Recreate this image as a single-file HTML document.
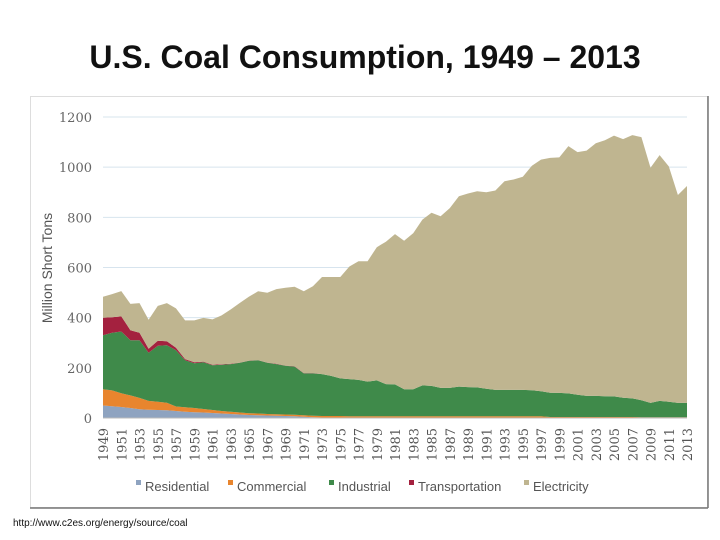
<!DOCTYPE html>
<html><head><meta charset="utf-8"><style>
body{margin:0;width:720px;height:540px;background:#fff;overflow:hidden;position:relative;font-family:"Liberation Sans",sans-serif}
#title{position:absolute;left:0;width:730px;top:39px;text-align:center;font-size:32px;font-weight:bold;color:#111}
#url{position:absolute;left:13px;top:518px;font-size:10px;color:#111}
svg{position:absolute;left:0;top:0}
</style></head><body>
<div id="title">U.S. Coal Consumption, 1949 – 2013</div>
<svg id="chart" width="720" height="540"></svg>
<div id="url">http://www.c2es.org/energy/source/coal</div>
<script>
const startYear = 1949;
const residential = [50,47,44,40,35,33,32,31,28,25,23,22,20,18,16,14,12,11,10,9,8,7,5,3,2,2,2,1,1,1,1,1,1,1,1,1,1,1,1,1,1,1,1,1,1,1,1,1,1,1,1,1,1,1,1,1,1,1,1,0,0,0,0,0,0];
const commercial = [65,63,55,50,45,35,33,30,18,18,17,14,12,10,9,8,7,7,6,6,6,6,6,6,6,6,6,6,6,6,6,6,6,6,6,6,6,6,6,6,6,6,6,6,6,6,6,6,6,3,3,3,3,3,3,3,3,3,3,3,3,3,3,3,3];
const industrial = [215,230,246,220,230,192,223,229,224,187,178,186,178,184,190,198,209,212,204,200,194,192,167,169,167,160,150,148,145,138,143,128,127,108,108,123,121,113,113,118,116,115,110,105,105,105,105,104,100,97,96,94,89,84,84,83,82,77,74,68,57,65,62,57,57];
const transportation = [70,62,60,40,30,16,20,16,10,5,4,3,2,2,1,1,1,1,1,1,1,1,1,1,0,0,0,0,0,0,0,0,0,0,0,0,0,0,0,0,0,0,0,0,0,0,0,0,0,0,0,0,0,0,0,0,0,0,0,0,0,0,0,0,0];
const electricity = [83,92,101,105,118,116,139,152,157,154,167,174,181,195,217,238,255,274,278,298,310,317,326,346,387,394,404,449,473,480,531,568,599,592,622,661,690,684,717,759,772,782,783,795,832,839,850,895,923,936,939,986,967,978,1007,1020,1040,1031,1050,1049,938,980,938,829,865];
const yTicks = [0,200,400,600,800,1000,1200];
const seriesNames = ["Residential","Commercial","Industrial","Transportation","Electricity"];
const seriesColors = ["#8ea3c0","#e8852e","#3f8a4a","#a4213f","#bfb590"];

const svg = document.getElementById('chart');
const NS = 'http://www.w3.org/2000/svg';
const x0 = 103, x1 = 687, yBase = 418, yTop = 117;
const n = residential.length;
const xs = i => x0 + (x1 - x0) * i / (n - 1);
const ys = v => yBase - (yBase - yTop) * v / 1200;
function mk(tag, attrs, parent){const e=document.createElementNS(NS,tag);for(const k in attrs)e.setAttribute(k,attrs[k]);(parent||svg).appendChild(e);return e;}

let f = mk('rect',{x:30.5,y:96.5,width:677,height:411,fill:'none',stroke:'#ddd','stroke-width':1});


mk('line',{x1:30,y1:508,x2:708,y2:508,stroke:'#777','stroke-width':1.5});
mk('line',{x1:708,y1:96,x2:708,y2:508,stroke:'#777','stroke-width':1.5});

yTicks.forEach(t=>{
  const g = mk('line',{x1:x0,x2:x1,y1:ys(t),y2:ys(t),stroke:'#d7e4ee','stroke-width':1});
  
  
  const tx = mk('text',{x:92,y:ys(t)+5,'text-anchor':'end','font-size':13,fill:'#666','font-family':'"DejaVu Serif",serif'});
  tx.textContent = t;
  
  
});
const yt = mk('text',{x:0,y:0,transform:'translate(52,268) rotate(-90)','text-anchor':'middle','font-size':14,fill:'#555'});
yt.textContent='Million Short Tons';



const all = [residential,commercial,industrial,transportation,electricity];
let cum = new Array(n).fill(0);
all.forEach((s,k)=>{
  const lower = cum.slice();
  const upper = cum.map((c,i)=>c+s[i]);
  let d = 'M'+upper.map((v,i)=>xs(i).toFixed(1)+','+ys(v).toFixed(1)).join('L');
  for(let i=n-1;i>=0;i--) d += 'L'+xs(i).toFixed(1)+','+ys(lower[i]).toFixed(1);
  const p = mk('path',{d:d+'Z',fill:seriesColors[k]});
  
  
  cum = upper;
});

mk('line',{x1:x0,x2:x1,y1:yBase,y2:yBase,stroke:'#bbb'});
for(let i=0;i<n;i+=2){
  const tx = mk('text',{x:0,y:0,transform:`translate(${xs(i)+5},${yBase+10}) rotate(-90)`,'text-anchor':'end','font-size':13,fill:'#555','font-family':'"DejaVu Serif",serif'});
  tx.textContent = startYear+i;
  
  
}

const legX = [136,228,329,409,524];
seriesNames.forEach((nm,k)=>{
  const r = mk('rect',{x:legX[k],y:480,width:5,height:5,fill:seriesColors[k]});
  
  
  const t = mk('text',{x:legX[k]+9,y:491,'font-size':13,fill:'#555'});
  t.textContent = nm;
  
  
});
</script>
</body></html>
